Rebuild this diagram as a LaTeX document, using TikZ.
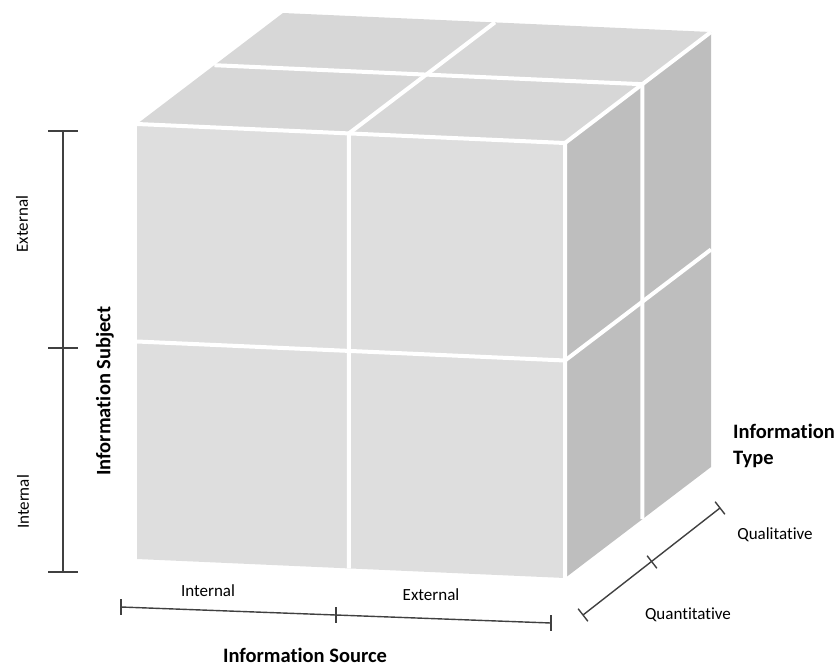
\documentclass[tikz,border=0pt]{standalone}
\usepackage{fontspec}
\setmainfont{Carlito}[Ligatures=NoCommon]
\usetikzlibrary{calc}
\definecolor{frontgray}{HTML}{DEDEDE}
\definecolor{topgray}{HTML}{D7D7D7}
\definecolor{sidegray}{HTML}{BEBEBE}
\definecolor{axisgray}{HTML}{404040}
\tikzset{
  gap/.style={white, line width=4pt},
  axisline/.style={axisgray, line width=1.4pt},
  small/.style={font=\fontsize{17}{20}\selectfont, inner sep=0pt},
  heading/.style={font=\fontsize{20.5}{26}\selectfont\bfseries, inner sep=0pt},
}
\begin{document}
\begin{tikzpicture}[x=1pt, y=-1pt]
\useasboundingbox (0,0) rectangle (838,667);

% cube corners (oblique projection)
\coordinate (FBL) at (137,559);
\coordinate (FBR) at (565,578);
\coordinate (FTL) at (137,124);
\coordinate (FTR) at (565,143);
\coordinate (BTL) at (283,13);
\coordinate (BTR) at (711,32);
\coordinate (BBR) at (711,467);

% split points of the 2x2x2 blocks
\coordinate (FBm) at (348.9,568.4);
\coordinate (FTm) at (348.9,133.4);
\coordinate (BTm) at (494.9,22.4);
\coordinate (FLm) at (137,341.5);
\coordinate (FRm) at (565,360.5);
\coordinate (BRm) at (711,249.5);
\coordinate (TLw) at (214.4,65.2);
\coordinate (TRw) at (642.4,84.2);
\coordinate (RBw) at (642.4,519.2);

% faces
\fill[frontgray] (FBL) -- (FBR) -- (FTR) -- (FTL) -- cycle;
\fill[topgray] (FTL) -- (FTR) -- (BTR) -- (BTL) -- cycle;
\fill[sidegray] (FBR) -- (BBR) -- (BTR) -- (FTR) -- cycle;

% white gaps between the blocks
\draw[gap] (FTL) -- (FTR) -- (FBR);
\draw[gap] (FTR) -- (BTR);
\draw[gap] (FBm) -- (FTm) -- (BTm);
\draw[gap] (FLm) -- (FRm) -- (BRm);
\draw[gap] (TLw) -- (TRw) -- (RBw);

% vertical axis: Information Subject
\coordinate (sA) at (63,131);
\coordinate (sB) at (63,348);
\coordinate (sC) at (63,572);
\draw[axisline] (sA) -- (sC);
\foreach \p in {sA,sB,sC}
  \draw[axisline] ($(\p)+(-15,0)$) -- ($(\p)+(15,0)$);

% horizontal axis: Information Source
\coordinate (hA) at (121,607);
\coordinate (hB) at (336,615);
\coordinate (hC) at (551,623);
\draw[axisline] (hA) -- (hC);
\foreach \p in {hA,hB,hC}
  \draw[axisline] ($(\p)+(0,-8)$) -- ($(\p)+(0,8)$);

% depth axis: Information Type
\coordinate (dA) at (583,615);
\coordinate (dB) at (652,562);
\coordinate (dC) at (720,508);
\draw[axisline] (dA) -- (dC);
\foreach \p in {dA,dB,dC}
  \draw[axisline] ($(\p)+(-4.9,-6.3)$) -- ($(\p)+(4.9,6.3)$);

% labels
\node[small, rotate=90] (subjExt) at (22,224) {External};
\node[small, rotate=90] (subjInt) at (23,502) {Internal};
\node[heading, rotate=90] (subjTitle) at (105,391) {Information Subject};
\node[small] (srcInt) at (208,591) {Internal};
\node[small] (srcExt) at (431,595) {External};
\node[heading, anchor=base] (srcTitle) at (305,662) {Information Source};
\node[small] (typeQual) at (775,535) {Qualitative};
\node[small] (typeQuant) at (688,615) {Quantitative};
\node[heading, align=left, anchor=west] (typeTitle) at (733,446) {Information\\Type};
\end{tikzpicture}
\end{document}
